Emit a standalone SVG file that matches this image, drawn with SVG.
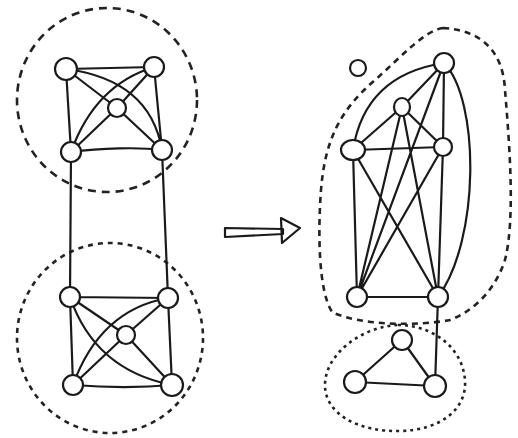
<svg xmlns="http://www.w3.org/2000/svg" width="518" height="438" viewBox="0 0 518 438">
<style>
.e{fill:none;stroke:#1a1a1a;stroke-width:2.2;stroke-linecap:round;stroke-linejoin:round}
.n{fill:#fff;stroke:#1a1a1a;stroke-width:2.2}
.d1{fill:none;stroke:#222;stroke-width:2.6;stroke-dasharray:8 6}
.d2{fill:none;stroke:#222;stroke-width:2.6;stroke-dasharray:5 5}
.d3{fill:none;stroke:#222;stroke-width:2.6;stroke-dasharray:6 5}
.d4{fill:none;stroke:#222;stroke-width:2.6;stroke-dasharray:3 4}
</style>
<rect width="518" height="438" fill="#fff"/>
<g id="groups">
<ellipse class="d1" cx="107" cy="100" rx="90" ry="92"/>
<ellipse class="d2" cx="110" cy="338" rx="93" ry="95"/>
<path class="d3" d="M443,28 C480,30 503,50 505,90 C510,150 515,220 505,260 C495,290 475,310 450,320 C420,326 360,326 332,312 C318,290 318,230 321,190 C325,140 340,110 375,80 C400,58 425,30 443,28 Z"/>
<path class="d4" d="M398,325 C430,325 462,345 465,380 C467,410 440,430 400,431 C360,432 325,415 325,385 C325,355 360,327 398,325 Z"/>
</g>
<g id="connectors">
<path class="e" d="M66,69 L154,67 M66,69 L71,152 M154,67 L162,150 M71,152 C100,148 140,147 162,150 M66,69 L117,108 L162,150 M154,67 L117,108 L71,152 M66,69 Q150,80 162,150 M154,67 Q95,85 71,152"/>
<path class="e" d="M71,152 L70,297 M162,150 L168,298"/>
<path class="e" d="M70,297 L168,298 M70,297 L73,385 M168,298 L172,385 M73,385 C110,388 140,388 172,385 M70,297 L126,335 L172,385 M168,298 L126,335 L73,385 M70,297 Q95,370 172,385 M168,298 Q100,310 73,385"/>
<path class="e" d="M353,150 Q365,75 444,63 M444,63 C480,100 480,240 438,297 M444,63 L402,107 M444,63 L443,147 M444,63 L357,297 M402,107 L353,150 M402,107 L443,147 M402,107 L357,297 M402,107 L438,297 M353,150 L443,147 M353,150 L357,297 M353,150 L438,297 M443,147 L357,297 M443,147 L438,297 M357,297 L438,297"/>
<path class="e" d="M438,297 L435,386 M402,340 L355,382 M402,340 L435,386 M355,382 L435,386"/>
<path class="e" d="M225,228 L283,229 L283,234 L225,237 Z"/>
<path class="e" d="M281,218 L300,228 L282,243 Z" fill="#fff"/>
</g>
<g id="n1"><circle class="n" cx="66" cy="69" r="11"/></g>
<g id="n2"><circle class="n" cx="154" cy="67" r="10"/></g>
<g id="n3"><circle class="n" cx="117" cy="108" r="9"/></g>
<g id="n4"><circle class="n" cx="71" cy="152" r="10"/></g>
<g id="n5"><circle class="n" cx="162" cy="150" r="10"/></g>
<g id="n6"><circle class="n" cx="70" cy="297" r="10"/></g>
<g id="n7"><circle class="n" cx="168" cy="298" r="10"/></g>
<g id="n8"><circle class="n" cx="126" cy="335" r="9"/></g>
<g id="n9"><circle class="n" cx="73" cy="385" r="10"/></g>
<g id="n10"><circle class="n" cx="172" cy="385" r="11"/></g>
<g id="r0"><circle class="n" cx="358" cy="68" r="8"/></g>
<g id="r1"><circle class="n" cx="444" cy="63" r="10"/></g>
<g id="r2"><ellipse class="n" cx="402" cy="107" rx="8" ry="9"/></g>
<g id="r3"><ellipse class="n" cx="353" cy="150" rx="12" ry="10"/></g>
<g id="r4"><circle class="n" cx="443" cy="147" r="9"/></g>
<g id="r5"><circle class="n" cx="357" cy="297" r="10"/></g>
<g id="r6"><circle class="n" cx="438" cy="297" r="10"/></g>
<g id="t1"><circle class="n" cx="402" cy="340" r="10"/></g>
<g id="t2"><circle class="n" cx="355" cy="382" r="11"/></g>
<g id="t3"><circle class="n" cx="435" cy="386" r="11"/></g>
</svg>
